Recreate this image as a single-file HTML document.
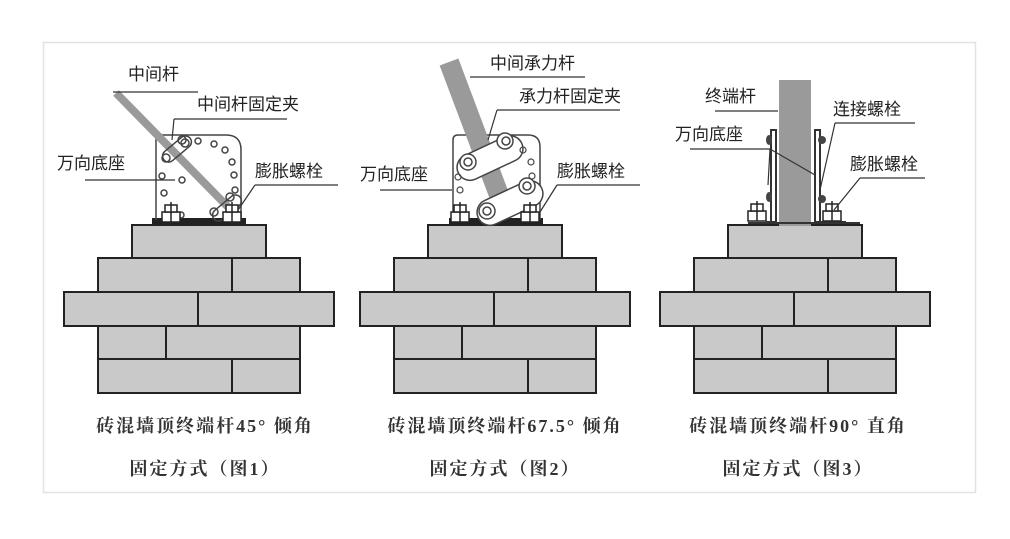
<!DOCTYPE html>
<html><head><meta charset="utf-8"><style>
html,body{margin:0;padding:0;background:#fff;}
svg{display:block;}
text{font-family:"Liberation Sans","Noto Sans CJK SC",sans-serif;fill:#222;}
text.cap{font-family:"Liberation Serif","Noto Serif CJK SC",serif;font-weight:bold;fill:#333;font-size:18px;letter-spacing:2px;}
</style></head><body>
<svg width="1010" height="539" viewBox="0 0 1010 539" xmlns="http://www.w3.org/2000/svg">
<rect x="0" y="0" width="1010" height="539" fill="#fff"/>
<rect x="43.5" y="42.5" width="932" height="450" fill="#fff" stroke="#e2e2e2" stroke-width="1.5"/>
<defs>
<g id="wall" stroke="#222" stroke-width="2" fill="#c9c9c9">
<rect x="132" y="225" width="134" height="33"/>
<rect x="98" y="258" width="202" height="34"/>
<line x1="232" y1="258" x2="232" y2="292"/>
<rect x="64" y="292" width="270" height="34"/>
<line x1="198" y1="292" x2="198" y2="326"/>
<rect x="98" y="326" width="202" height="33"/>
<line x1="166" y1="326" x2="166" y2="359"/>
<rect x="98" y="359" width="202" height="34"/>
<line x1="232" y1="359" x2="232" y2="393"/>
</g>
<g id="nut" stroke="#222" stroke-width="1.5" fill="#fff">
<rect x="-9" y="-8" width="18" height="10"/>
<rect x="-6" y="-15" width="12" height="7"/>
<line x1="0" y1="-18" x2="0" y2="2"/>
</g>
</defs>
<use href="#wall"/>
<use href="#wall" x="296"/>
<use href="#wall" x="596"/>

<!-- Figure 1 -->
<rect x="152" y="218" width="94" height="6" fill="#222"/>
<path d="M156 220 V140 Q156 135 161 135 H226 Q241 135 241 150 V220" fill="none" stroke="#444" stroke-width="1.5"/>
<line x1="116" y1="93" x2="228" y2="207" stroke="#9a9a9a" stroke-width="8"/>
<g fill="none" stroke="#444" stroke-width="1.5">
<circle cx="182" cy="140" r="4"/><circle cx="198" cy="141" r="3"/><circle cx="214" cy="144" r="3"/><circle cx="225" cy="150" r="3"/><circle cx="232" cy="162" r="3"/><circle cx="234" cy="175" r="3"/><circle cx="235" cy="190" r="3"/>
<circle cx="162" cy="176" r="3"/><circle cx="164" cy="193" r="3"/><circle cx="181" cy="215" r="3"/><circle cx="182" cy="180" r="3"/>
<rect x="160" y="143" width="34" height="12" rx="6" transform="rotate(-40 177 149)"/>
<circle cx="185" cy="143" r="4"/><circle cx="166" cy="158" r="4"/>
<rect x="210" y="202" width="34" height="12" rx="6" transform="rotate(-40 227 208)"/>
<circle cx="230" cy="197" r="4"/><circle cx="214" cy="212" r="4"/>
</g>
<use href="#nut" x="171" y="220"/><use href="#nut" x="232" y="220"/>
<g stroke="#333" stroke-width="1.2" fill="none">
<polyline points="113,92 198,92"/>
<polyline points="174,119 287,119"/><line x1="174" y1="119" x2="172" y2="140"/>
<line x1="85" y1="180" x2="175" y2="180"/>
<line x1="255" y1="185" x2="338" y2="185"/><line x1="255" y1="185" x2="238" y2="210"/>
</g>
<text x="128" y="80" font-size="17">中间杆</text>
<text x="197" y="110" font-size="17">中间杆固定夹</text>
<text x="57" y="169" font-size="17">万向底座</text>
<text x="255" y="177" font-size="17">膨胀螺栓</text>
<text class="cap" x="205" y="432" text-anchor="middle">砖混墙顶终端杆45° 倾角</text>
<text class="cap" x="205" y="475" text-anchor="middle">固定方式（图1）</text>

<!-- Figure 2 -->
<rect x="449" y="218" width="94" height="6" fill="#222"/>
<path d="M453 220 V140 Q453 135 458 135 H528 Q540 135 540 147 V220" fill="none" stroke="#444" stroke-width="1.5"/>
<line x1="449" y1="62" x2="499" y2="195" stroke="#9a9a9a" stroke-width="20"/>
<g fill="#fff" stroke="#444" stroke-width="1.5">
<rect x="455" y="145" width="70" height="26" rx="13" transform="rotate(-25 490 158)"/>
<circle cx="505" cy="141" r="8"/><circle cx="506" cy="141" r="4"/><circle cx="468" cy="162" r="8"/><circle cx="468" cy="162" r="4"/>
<rect x="475" y="190" width="70" height="26" rx="13" transform="rotate(-25 510 203)"/>
<circle cx="527" cy="186" r="8"/><circle cx="527" cy="186" r="4"/><circle cx="487" cy="211" r="8"/><circle cx="487" cy="211" r="4"/>
</g>
<g fill="none" stroke="#444" stroke-width="1.2">
<circle cx="523" cy="150" r="3"/><circle cx="531" cy="162" r="3"/><circle cx="532" cy="176" r="3"/><circle cx="458" cy="177" r="3"/><circle cx="460" cy="190" r="3"/>
</g>
<use href="#nut" x="460" y="220"/><use href="#nut" x="530" y="220"/>
<g stroke="#333" stroke-width="1.2" fill="none">
<line x1="470" y1="77" x2="585" y2="77"/>
<line x1="497" y1="110" x2="620" y2="110"/><line x1="497" y1="110" x2="488" y2="140"/>
<line x1="380" y1="190" x2="452" y2="190"/>
<line x1="557" y1="185" x2="640" y2="185"/><line x1="557" y1="185" x2="540" y2="212"/>
</g>
<text x="490" y="69" font-size="17">中间承力杆</text>
<text x="519" y="102" font-size="17">承力杆固定夹</text>
<text x="360" y="180" font-size="17">万向底座</text>
<text x="557" y="177" font-size="17">膨胀螺栓</text>
<text class="cap" x="505" y="432" text-anchor="middle">砖混墙顶终端杆67.5° 倾角</text>
<text class="cap" x="505" y="475" text-anchor="middle">固定方式（图2）</text>

<!-- Figure 3 -->
<rect x="779" y="80" width="32" height="146" fill="#9a9a9a"/>
<g stroke="#333" stroke-width="2" fill="none">
<path d="M766 222 H776 V130 H771 V222"/>
<path d="M846 222 H815 V130 H820 V222"/>
<line x1="748" y1="223" x2="860" y2="223"/>
</g>
<ellipse cx="769" cy="140" rx="3" ry="5" fill="#444"/><ellipse cx="822" cy="140" rx="4" ry="4" fill="#444"/>
<ellipse cx="769" cy="197" rx="3" ry="5" fill="#444"/><ellipse cx="822" cy="199" rx="4" ry="4" fill="#444"/>
<use href="#nut" x="757" y="219"/><use href="#nut" x="832" y="219"/>
<g stroke="#333" stroke-width="1.2" fill="none">
<line x1="715" y1="111" x2="778" y2="111"/>
<line x1="835" y1="123" x2="915" y2="123"/><line x1="835" y1="123" x2="820" y2="190"/>
<line x1="690" y1="149" x2="770" y2="149"/><line x1="770" y1="149" x2="815" y2="175"/><line x1="770" y1="149" x2="768" y2="185"/>
<line x1="860" y1="178" x2="925" y2="178"/><line x1="860" y1="178" x2="834" y2="210"/>
</g>
<text x="705" y="102" font-size="17">终端杆</text>
<text x="833" y="115" font-size="17">连接螺栓</text>
<text x="675" y="140" font-size="17">万向底座</text>
<text x="850" y="170" font-size="17">膨胀螺栓</text>
<text class="cap" x="798" y="432" text-anchor="middle">砖混墙顶终端杆90° 直角</text>
<text class="cap" x="798" y="475" text-anchor="middle">固定方式（图3）</text>
</svg>
</body></html>
